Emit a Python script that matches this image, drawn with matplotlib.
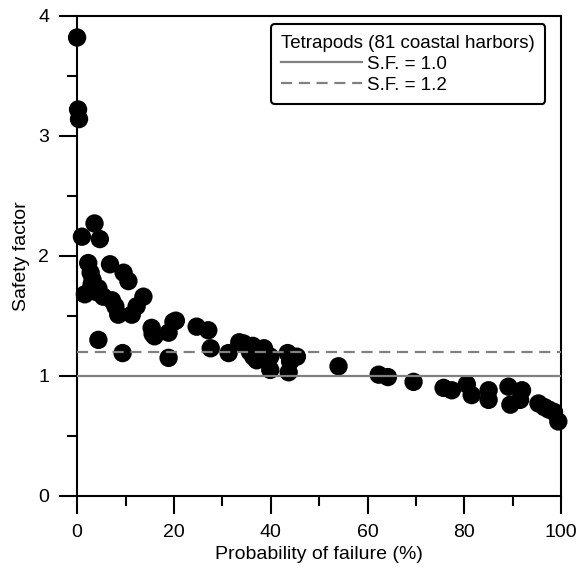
import matplotlib
matplotlib.use("Agg")
import matplotlib.pyplot as plt
from matplotlib.ticker import MultipleLocator

plt.rcParams['font.family'] = ['Liberation Sans', 'DejaVu Sans']

# probability of failure (%) and safety factor for each harbor
pf = [0.0, 0.2, 0.4, 1.0, 3.6, 4.7, 2.3, 2.8, 3.2, 1.6, 4.4, 5.4, 6.8, 7.2,
      7.9, 8.5, 9.6, 10.6, 11.3, 12.3, 13.7, 4.4, 9.4, 15.4, 15.6, 16.0,
      18.9, 19.9, 20.4, 18.9, 24.7, 27.1, 27.6, 31.3, 33.5, 34.4, 35.7,
      36.3, 36.4, 37.1, 38.6, 39.2, 39.9, 39.9, 43.5, 44.0, 43.7, 45.4,
      54.0, 62.3, 64.2, 69.5, 75.7, 77.4, 80.5, 81.5, 85.0, 85.0, 89.1,
      91.9, 89.5, 91.5, 95.3, 96.5, 97.4, 98.5, 99.4, 3.0, 3.9]
sf = [3.82, 3.22, 3.14, 2.16, 2.27, 2.14, 1.94, 1.86, 1.80, 1.68, 1.73,
      1.66, 1.93, 1.63, 1.58, 1.51, 1.86, 1.79, 1.51, 1.58, 1.66, 1.30,
      1.19, 1.40, 1.35, 1.33, 1.36, 1.45, 1.46, 1.15, 1.41, 1.38, 1.23,
      1.19, 1.28, 1.27, 1.20, 1.25, 1.16, 1.13, 1.23, 1.18, 1.16, 1.05,
      1.19, 1.12, 1.03, 1.16, 1.08, 1.01, 0.99, 0.95, 0.90, 0.88, 0.93,
      0.84, 0.88, 0.80, 0.91, 0.88, 0.76, 0.80, 0.77, 0.74, 0.72, 0.70,
      0.62, 1.76, 1.70]

sf_lines = [1.0, 1.2]
sf_labels = ['S.F. = 1.0', 'S.F. = 1.2']
sf_styles = ['-', '--']

fig = plt.figure(figsize=(5.84, 5.68), dpi=100)
ax = fig.add_axes([0.132, 0.127, 0.829, 0.845])

ax.scatter(pf, sf, s=175, color='black', edgecolors='none', zorder=2,
           clip_on=False)

for val, lab, ls in zip(sf_lines, sf_labels, sf_styles):
    ax.axhline(val, color='#808080', lw=1.6, ls=ls, label=lab, zorder=3,
               dashes=(5, 3) if ls == '--' else (None, None))

ax.set_xlim(0, 100)
ax.set_ylim(0, 4)
ax.xaxis.set_major_locator(MultipleLocator(20))
ax.xaxis.set_minor_locator(MultipleLocator(10))
ax.yaxis.set_major_locator(MultipleLocator(1))
ax.yaxis.set_minor_locator(MultipleLocator(0.5))
ax.tick_params(which='major', direction='out', length=13, width=1.5,
               labelsize=14, colors='black', pad=7)
ax.tick_params(which='minor', direction='out', length=7, width=1.5)
for sp in ax.spines.values():
    sp.set_linewidth(1.5)

ax.set_xlabel('Probability of failure (%)', fontsize=14, labelpad=4)
ax.set_ylabel('Safety factor', fontsize=14, labelpad=6)

leg = ax.legend(title='Tetrapods (81 coastal harbors)', loc='upper right',
                bbox_to_anchor=(0.975, 0.99), fontsize=13.5,
                title_fontsize=13.5, alignment='left', handlelength=4.3,
                handletextpad=0.25, labelspacing=0.2, borderpad=0.55,
                borderaxespad=0.2, fancybox=True, framealpha=1)
leg.get_frame().set_edgecolor('black')
leg.get_frame().set_linewidth(1.5)

fig.savefig('out.png', dpi=100)
